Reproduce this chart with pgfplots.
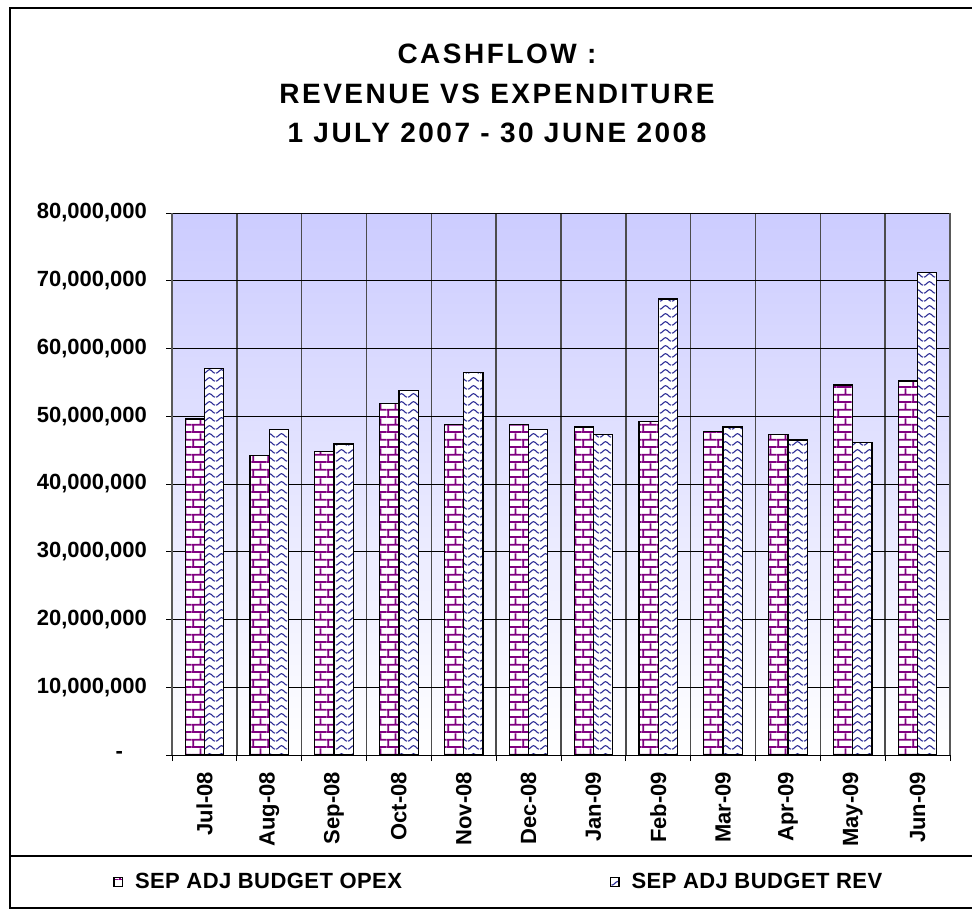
\documentclass[border=0pt]{standalone}
\usepackage{fontspec}
\setmainfont{Liberation Sans}
\newfontfamily\titlefont[LetterSpace=9]{Liberation Sans}
\newfontfamily\legfont[LetterSpace=2]{Liberation Sans}
\usepackage{pgfplots}
\pgfplotsset{compat=1.18}
\usetikzlibrary{patterns}

\definecolor{xlpurple}{RGB}{128,0,128}
\definecolor{xlblue}{RGB}{45,45,150}
\definecolor{xllav}{RGB}{204,204,255}

\pgfdeclarepatternformonly{xlbricks}{\pgfpointorigin}{\pgfpoint{7.4pt}{7.4pt}}{\pgfpoint{7.4pt}{7.4pt}}{%
  \pgfsetlinewidth{0.9pt}%
  \pgfpathmoveto{\pgfpoint{0pt}{0.5pt}}\pgfpathlineto{\pgfpoint{7.4pt}{0.5pt}}%
  \pgfpathmoveto{\pgfpoint{0pt}{4.2pt}}\pgfpathlineto{\pgfpoint{7.4pt}{4.2pt}}%
  \pgfpathmoveto{\pgfpoint{0.6pt}{0.5pt}}\pgfpathlineto{\pgfpoint{0.6pt}{4.2pt}}%
  \pgfpathmoveto{\pgfpoint{4.3pt}{4.2pt}}\pgfpathlineto{\pgfpoint{4.3pt}{7.4pt}}%
  \pgfpathmoveto{\pgfpoint{4.3pt}{0pt}}\pgfpathlineto{\pgfpoint{4.3pt}{0.5pt}}%
  \pgfusepath{stroke}}

\pgfdeclarepatternformonly{xlwave}{\pgfpointorigin}{\pgfpoint{6pt}{4pt}}{\pgfpoint{6pt}{4pt}}{%
  \pgfsetlinewidth{0.6pt}%
  \pgfpathmoveto{\pgfpoint{0pt}{1pt}}%
  \pgfpathcurveto{\pgfpoint{1pt}{1pt}}{\pgfpoint{2pt}{3pt}}{\pgfpoint{3pt}{3pt}}%
  \pgfpathcurveto{\pgfpoint{4pt}{3pt}}{\pgfpoint{5pt}{1pt}}{\pgfpoint{6pt}{1pt}}%
  \pgfusepath{stroke}}

\begin{document}
\begin{tikzpicture}
\useasboundingbox (0,0) rectangle (486pt,-455pt);
\begin{axis}[
  at={(86pt,-106.5pt)}, anchor=north west,
  scale only axis, width=389pt, height=271pt,
  ybar, bar width=9.6pt,
  xmin=-0.5, xmax=11.5, ymin=0, ymax=80000000,
  scaled y ticks=false,
  xtick={-0.5,0.5,1.5,2.5,3.5,4.5,5.5,6.5,7.5,8.5,9.5,10.5,11.5},
  xticklabels={},
  extra x ticks={0,1,2,3,4,5,6,7,8,9,10,11},
  extra x tick labels={Jul-08,Aug-08,Sep-08,Oct-08,Nov-08,Dec-08,Jan-09,Feb-09,Mar-09,Apr-09,May-09,Jun-09},
  extra x tick style={major tick length=0pt, grid=none},
  xticklabel shift=5pt,
  xticklabel style={rotate=90, anchor=east, font=\bfseries\fontsize{11}{13}\selectfont},
  ytick={0,10000000,20000000,30000000,40000000,50000000,60000000,70000000,80000000},
  yticklabels={{-\hspace*{12pt}\mbox{}},{10,000,000},{20,000,000},{30,000,000},{40,000,000},{50,000,000},{60,000,000},{70,000,000},{80,000,000}},
  yticklabel shift=6pt,
  yticklabel style={anchor=east, font=\bfseries\fontsize{11}{13}\selectfont},
  tick pos=left, tick align=outside, major tick length=3pt,
  tick style={black, line width=0.5pt},
  xmajorgrids, ymajorgrids,
  x grid style={gray!60!black, line width=0.8pt},
  y grid style={black, line width=0.5pt},
  separate axis lines,
  x axis line style={black, line width=0.5pt},
  y axis line style={draw=gray!70!black, line width=1pt},
  axis background/.style={shade, top color=xllav, bottom color=white},
  legend columns=2,
  legend image code/.code={\path[#1] (-3pt,-2.2pt) rectangle (1.2pt,2.2pt);},
  legend style={at={(-0.0758,-0.2343)}, anchor=west, draw=none, fill=none, inner sep=0pt,
    font=\legfont\bfseries\fontsize{11}{13}\selectfont,
    /tikz/every even column/.append style={column sep=102pt}},
]
\addplot[draw=none, fill=white, bar shift=-4.8pt, forget plot]
 coordinates {(0,49600000) (1,44200000) (2,44800000) (3,51850000) (4,48800000) (5,48800000) (6,48400000) (7,49200000) (8,47700000) (9,47300000) (10,54600000) (11,55200000)};
\addplot[draw=none, fill=white, bar shift=4.8pt, forget plot]
 coordinates {(0,57050000) (1,48100000) (2,45900000) (3,53800000) (4,56500000) (5,48100000) (6,47300000) (7,67300000) (8,48400000) (9,46500000) (10,46100000) (11,71200000)};
\addplot[draw=black, line width=0.6pt, pattern=xlbricks, pattern color=xlpurple, bar shift=-4.8pt]
 coordinates {(0,49600000) (1,44200000) (2,44800000) (3,51850000) (4,48800000) (5,48800000) (6,48400000) (7,49200000) (8,47700000) (9,47300000) (10,54600000) (11,55200000)};
\addlegendentry{\hspace*{4pt}SEP ADJ BUDGET OPEX}
\addplot[draw=black, line width=0.6pt, pattern=xlwave, pattern color=xlblue, bar shift=4.8pt]
 coordinates {(0,57050000) (1,48100000) (2,45900000) (3,53800000) (4,56500000) (5,48100000) (6,47300000) (7,67300000) (8,48400000) (9,46500000) (10,46100000) (11,71200000)};
\addlegendentry{\hspace*{4pt}SEP ADJ BUDGET REV}
\end{axis}
\node[anchor=base, font=\titlefont\bfseries\fontsize{14}{16}\selectfont] at (248.5pt,-31.5pt) {CASHFLOW :};
\node[anchor=base, font=\titlefont\bfseries\fontsize{14}{16}\selectfont] at (248.5pt,-51.5pt) {REVENUE VS EXPENDITURE};
\node[anchor=base, font=\titlefont\bfseries\fontsize{14}{16}\selectfont] at (248.5pt,-71pt) {1 JULY 2007 - 30 JUNE 2008};
\draw[line width=0.6pt] (5pt,-4pt) rectangle (490pt,-454pt);
\draw[line width=0.6pt] (5pt,-428pt) -- (490pt,-428pt);
\end{tikzpicture}
\end{document}
